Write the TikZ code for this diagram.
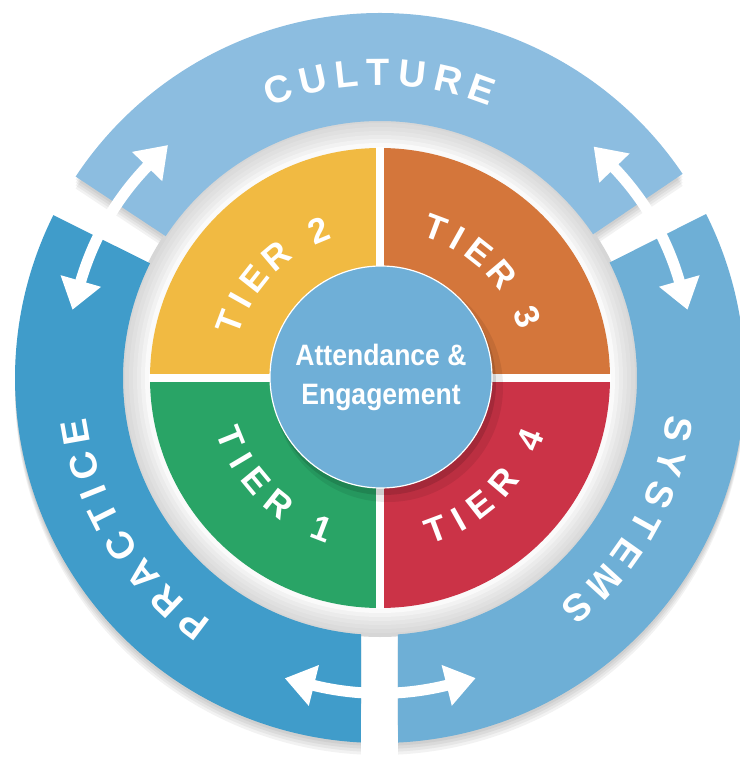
\documentclass[tikz,border=0pt]{standalone}
\usepackage{fontspec}
\setmainfont{Liberation Sans}
\newfontfamily\narrowsans[FakeStretch=0.9]{Liberation Sans}
\usetikzlibrary{arrows.meta}
\definecolor{culturefill}{HTML}{8CBDE0}
\definecolor{practicefill}{HTML}{409CCA}
\definecolor{systemsfill}{HTML}{6EAFD6}
\definecolor{hubfill}{HTML}{6FAFD7}
\definecolor{tieryellow}{HTML}{F1BA42}
\definecolor{tierorange}{HTML}{D4763B}
\definecolor{tiergreen}{HTML}{29A466}
\definecolor{tierred}{HTML}{CB3347}
\newcommand{\bandfont}{\fontsize{38}{38}\selectfont\bfseries}
\newcommand{\tierfont}{\fontsize{35}{35}\selectfont\bfseries}
\newcommand{\hubfont}{\narrowsans\bfseries\fontsize{29.5}{37}\selectfont}
\newcommand{\culturepath}{(34:365) arc[start angle=34,end angle=146.5,radius=365] -- (146.5:257) arc[start angle=146.5,end angle=34,radius=257] -- cycle}
\newcommand{\practicepath}{(153.5:365) arc[start angle=153.5,end angle=267,radius=365] -- (265.8:257) arc[start angle=265.8,end angle=153.5,radius=257] -- cycle}
\newcommand{\systemspath}{(26.7:365) arc[start angle=26.7,end angle=-87.17,radius=365] -- (-86:257) arc[start angle=-86,end angle=26.7,radius=257] -- cycle}
\tikzset{
	bandletter/.style={text=white,font=\bandfont,inner sep=0pt},
	tierletter/.style={text=white,font=\tierfont,inner sep=0pt},
	hubstyle/.style={circle,fill=hubfill,draw=white,line width=1.2pt,minimum size=222pt,inner sep=0pt,text=white,font=\hubfont,align=center},
	linkstyle/.style={draw=white,line width=11pt,{Triangle[width=40pt,length=30pt]}-{Triangle[width=40pt,length=30pt]}}
}

\begin{document}
\begin{tikzpicture}[x=1pt,y=1pt]
		\useasboundingbox (-380,-400) rectangle (359,378);
		% soft shadows under the outer bands
		\foreach \s in {3,6,9,12}{
			\begin{scope}[yshift=-\s pt]
				\fill[black,opacity=0.05] \culturepath;
				\fill[black,opacity=0.05] \practicepath;
				\fill[black,opacity=0.05] \systemspath;
			\end{scope}
		}
		% grey halo round the tiers
		\foreach \r/\g in {259/16,255/14,251/12,247/10,243/8,239/5,235/2}
			\fill[black!\g] (0,0) circle[radius=\r];
		% outer bands
		\fill[culturefill] \culturepath;
		\fill[practicefill] \practicepath;
		\fill[systemsfill] \systemspath;
		% tiers
		\foreach \c/\s in {tierorange/0,tieryellow/90,tiergreen/180,tierred/270}
			\fill[\c] (0,0) -- (\s:230) arc[start angle=\s,delta angle=90,radius=230] -- cycle;
		\draw[white,line width=8pt] (-231,0) -- (231,0) (0,-231) -- (0,231);
		% hub
		\fill[black,opacity=0.08] (8,-9) circle[radius=115];
		\fill[black,opacity=0.12] (4,-5) circle[radius=112];
		\node[hubstyle] (hub) at (1,1) {\raisebox{2pt}{Attendance \&}\\Engagement};
		% band labels
		\foreach \ch/\a [count=\i] in {C/109.5,U/102.7,L/96.3,T/90.3,U/83.9,R/77.1,E/70.5}
			\node[bandletter,rotate=\a-90] (culture-\i) at (\a:306) {\ch};
		\foreach \ch/\a [count=\i] in {P/232.9,R/226.4,A/219.7,C/213.0,T/206.6,I/201.8,C/196.6,E/190.1}
			\node[bandletter,rotate=\a-90] (practice-\i) at (\a:309) {\ch};
		\foreach \ch/\a [count=\i] in {S/-9.8,Y/-16.3,S/-22.8,T/-29.0,E/-35.3,M/-42.3,S/-49.4}
			\node[bandletter,rotate=\a-90] (systems-\i) at (\a:303) {\ch};
		% tier labels
		\foreach \ch/\a [count=\i] in {T/159.5,I/150.8,E/141.8,R/130.2,2/112.5}
			\node[tierletter,rotate=\a-90] (tiertwo-\i) at (\a:160) {\ch};
		\foreach \ch/\a [count=\i] in {T/69.5,I/60.8,E/51.8,R/40.2,3/22.5}
			\node[tierletter,rotate=\a-90] (tierthree-\i) at (\a:160) {\ch};
		\foreach \ch/\a [count=\i] in {T/202.0,I/210.7,E/219.7,R/231.3,1/249.0}
			\node[tierletter,rotate=\a+90] (tierone-\i) at (\a:161) {\ch};
		\foreach \ch/\a [count=\i] in {T/290.5,I/299.2,E/308.2,R/319.8,4/337.5}
			\node[tierletter,rotate=\a+90] (tierfour-\i) at (\a:162) {\ch};
		% links between the bands
		\coordinate (cultprac-a) at (132.3:315);
		\coordinate (cultprac-b) at (167.5:315);
		\coordinate (cultsys-a) at (47.3:315);
		\coordinate (cultsys-b) at (12.5:315);
		\coordinate (pracsys-r) at (287.7:315);
		\coordinate (pracsys-l) at (252.4:315);
		\draw[linkstyle] (cultprac-b) to[bend left=14] (cultprac-a);
		\draw[linkstyle] (cultsys-a) to[bend left=14] (cultsys-b);
		\draw[linkstyle] (pracsys-r) to[bend left=14] (pracsys-l);
\end{tikzpicture}
\end{document}
